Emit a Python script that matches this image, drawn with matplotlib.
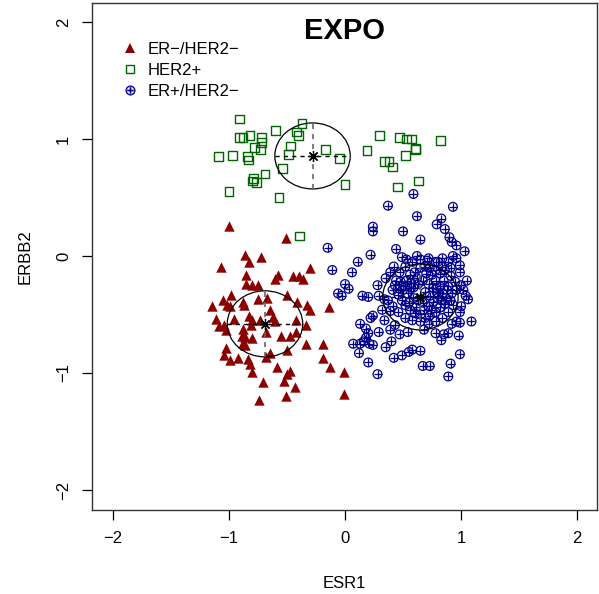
import numpy as np
import matplotlib
matplotlib.use("Agg")
import matplotlib.pyplot as plt
from matplotlib.patches import Ellipse
from matplotlib.lines import Line2D

plt.rcParams["font.family"] = ["Liberation Sans", "DejaVu Sans"]

# группы и подписи легенды
labels = ["ER\u2212/HER2\u2212", "HER2+", "ER+/HER2\u2212"]
colors = ["#8B0000", "#006400", "#00008B"]

# ER-/HER2- (ESR1, ERBB2)
er_neg = np.array([
    (-1.00, 0.26), (-0.51, 0.15), (-0.86, 0.01), (-0.83, -0.05), (-0.72, -0.01),
    (-1.07, -0.09), (-0.30, -0.10), (-0.85, -0.16), (-0.58, -0.16), (-0.60, -0.20),
    (-0.45, -0.17), (-0.40, -0.17), (-0.36, -0.20), (-0.85, -0.24), (-0.80, -0.25),
    (-0.75, -0.25), (-0.98, -0.33), (-1.05, -0.38), (-1.15, -0.43), (-1.02, -0.42),
    (-0.99, -0.43), (-0.88, -0.39), (-0.87, -0.42), (-0.75, -0.37), (-0.67, -0.36),
    (-0.50, -0.33), (-0.41, -0.39), (-0.33, -0.42), (-0.30, -0.46), (-0.14, -0.44),
    (-1.11, -0.54), (-1.09, -0.60), (-1.04, -0.59), (-1.03, -0.63), (-0.96, -0.54),
    (-0.83, -0.51), (-0.80, -0.55), (-0.81, -0.59), (-0.88, -0.62), (-0.89, -0.68),
    (-0.86, -0.69), (-0.80, -0.70), (-0.73, -0.55), (-0.65, -0.46), (-0.62, -0.52),
    (-0.60, -0.56), (-0.55, -0.68), (-0.68, -0.65), (-0.47, -0.68), (-0.42, -0.55),
    (-0.34, -0.59), (-0.42, -0.65), (-0.34, -0.75), (-0.19, -0.75), (-0.88, -0.74),
    (-0.86, -0.76), (-1.03, -0.79), (-1.04, -0.85), (-0.99, -0.89), (-0.92, -0.87),
    (-0.84, -0.88), (-0.82, -0.92), (-0.80, -0.99), (-0.68, -0.86), (-0.65, -0.83),
    (-0.50, -0.80), (-0.19, -0.87), (-0.13, -0.95), (-0.01, -0.99), (-0.59, -0.95),
    (-0.47, -0.98), (-0.50, -1.01), (-0.53, -1.07), (-0.71, -1.08), (-0.43, -1.12),
    (-0.51, -1.20), (-0.74, -1.23), (-0.01, -1.18),
])

# HER2+
her2 = np.array([
    (-0.91, 1.17), (-0.91, 1.01), (-0.88, 1.01), (-0.82, 1.03), (-0.72, 1.01),
    (-0.72, 0.97), (-0.78, 0.93), (-0.73, 0.91), (-0.60, 1.07), (-0.37, 1.13),
    (-0.42, 1.06), (-0.40, 1.03), (-0.47, 0.94), (-0.49, 0.87), (-0.17, 0.91),
    (-0.05, 0.83), (-1.09, 0.85), (-0.97, 0.86), (-0.84, 0.85), (-0.83, 0.82),
    (-0.54, 0.75), (-0.69, 0.70), (-0.79, 0.66), (-0.80, 0.64), (-0.76, 0.63),
    (-1.00, 0.55), (-0.57, 0.50), (0.00, 0.61), (-0.39, 0.17), (0.30, 1.03),
    (0.19, 0.90), (0.47, 1.01), (0.53, 1.00), (0.57, 1.00), (0.82, 0.99),
    (0.61, 0.92), (0.61, 0.91), (0.52, 0.86), (0.34, 0.81), (0.38, 0.81),
    (0.41, 0.76), (0.63, 0.64), (0.45, 0.59),
])

# ER+/HER2-
er_pos = np.array([
    (0.59, 0.53), (0.37, 0.43), (0.93, 0.42), (0.62, 0.34), (0.83, 0.32),
    (0.79, 0.27), (0.24, 0.25), (0.24, 0.21), (0.86, 0.23), (0.50, 0.21),
    (0.90, 0.16), (0.92, 0.12), (0.96, 0.09), (0.65, 0.14), (-0.15, 0.07),
    (0.44, 0.06), (1.03, 0.04), (0.22, 0.01), (0.11, -0.05), (0.49, -0.01),
    (0.53, -0.03), (0.62, 0.00), (0.71, -0.04), (0.80, -0.05), (0.84, -0.02),
    (0.93, 0.00), (0.96, -0.02), (-0.11, -0.12), (0.06, -0.14), (0.42, -0.09),
    (0.39, -0.14), (0.99, -0.08), (0.99, -0.14), (1.05, -0.21), (0.00, -0.24),
    (0.03, -0.28), (-0.06, -0.32), (-0.03, -0.34), (0.15, -0.34), (0.20, -0.35),
    (0.28, -0.25), (0.29, -0.34), (0.34, -0.37), (0.35, -0.19), (0.53, -0.21),
    (0.47, -0.28), (0.52, -0.26), (0.57, -0.27), (0.79, -0.28), (1.00, -0.25),
    (1.02, -0.29), (1.04, -0.34), (1.06, -0.37), (1.00, -0.43), (0.99, -0.48),
    (1.09, -0.56), (0.32, -0.46), (0.39, -0.47), (0.22, -0.53), (0.24, -0.51),
    (0.13, -0.58), (0.18, -0.62), (0.20, -0.66), (0.18, -0.70), (0.16, -0.73),
    (0.21, -0.75), (0.24, -0.76), (0.07, -0.75), (0.13, -0.75), (0.29, -0.65),
    (0.39, -0.63), (0.47, -0.67), (0.54, -0.65), (0.68, -0.63), (0.78, -0.66),
    (0.83, -0.72), (0.89, -0.66), (0.98, -0.68), (0.92, -0.58), (0.99, -0.57),
    (0.40, -0.73), (0.35, -0.78), (0.12, -0.83), (0.20, -0.91), (0.28, -1.01),
    (0.42, -0.87), (0.49, -0.85), (0.55, -0.82), (0.58, -0.80), (0.65, -0.81),
    (0.67, -0.94), (0.73, -0.94), (0.91, -0.92), (0.99, -0.84), (0.89, -1.03),
    (0.34, -0.55), (0.43, -0.59), (0.85, -0.67), (0.96, -0.56),
    (0.43, -0.25), (0.46, -0.33), (0.49, -0.38), (0.52, -0.42), (0.56, -0.46),
    (0.60, -0.49), (0.65, -0.50), (0.69, -0.53), (0.73, -0.51), (0.78, -0.48),
    (0.82, -0.44), (0.86, -0.41), (0.91, -0.38), (0.92, -0.32), (0.89, -0.26),
    (0.85, -0.21), (0.82, -0.15), (0.78, -0.12), (0.73, -0.10), (0.69, -0.09),
    (0.65, -0.10), (0.60, -0.14), (0.56, -0.16), (0.53, -0.21), (0.50, -0.29),
    (0.54, -0.32), (0.59, -0.36), (0.63, -0.38), (0.67, -0.40), (0.72, -0.43),
    (0.76, -0.39), (0.80, -0.36), (0.84, -0.32), (0.88, -0.29), (0.76, -0.27),
    (0.72, -0.24), (0.67, -0.21), (0.63, -0.24), (0.59, -0.27), (0.69, -0.31),
    (0.73, -0.34), (0.78, -0.21), (0.82, -0.26), (0.86, -0.12), (0.91, -0.17),
    (0.95, -0.22), (0.96, -0.29), (0.93, -0.42), (0.89, -0.48), (0.84, -0.53),
    (0.78, -0.56), (0.72, -0.58), (0.65, -0.56), (0.58, -0.55), (0.52, -0.53),
    (0.46, -0.48), (0.41, -0.43), (0.37, -0.38), (0.41, -0.29), (0.44, -0.21),
    (0.47, -0.14), (0.52, -0.09), (0.58, -0.05), (0.65, -0.03), (0.72, -0.02),
    (0.78, -0.05), (0.84, -0.09), (0.89, -0.05), (0.75, -0.16), (0.70, -0.15),
    (0.62, -0.19), (0.57, -0.23), (0.79, -0.31), (0.83, -0.38), (0.74, -0.46),
    (0.68, -0.46), (0.61, -0.44), (0.55, -0.40), (0.48, -0.22), (0.87, -0.36),
    (0.91, -0.10),
])

# центры групп и полуоси эллипсов
centers = [(-0.69, -0.58), (-0.28, 0.855), (0.65, -0.35)]
semi_x = 0.325
semi_y = 0.282

fig = plt.figure(figsize=(5.99, 5.94), dpi=100)
ax = fig.add_axes([92 / 599, 1 - 510 / 594, 505 / 599, 507 / 594])

ax.scatter(er_neg[:, 0], er_neg[:, 1], marker="^", s=56, color=colors[0],
           linewidths=0, zorder=2)
ax.scatter(her2[:, 0], her2[:, 1], marker="s", s=40, facecolors="none",
           edgecolors=colors[1], linewidths=1.0, zorder=2)
ax.scatter(er_pos[:, 0], er_pos[:, 1], marker="o", s=40, facecolors="none",
           edgecolors=colors[2], linewidths=0.9, zorder=2)
ax.scatter(er_pos[:, 0], er_pos[:, 1], marker="+", s=40, color=colors[2],
           linewidths=0.9, zorder=2)

# эллипсы с крестами
for cx, cy in centers:
    ax.add_patch(Ellipse((cx, cy), 2 * semi_x, 2 * semi_y, fill=False,
                         edgecolor="black", linewidth=0.9, zorder=3))
    ax.plot([cx - semi_x, cx + semi_x], [cy, cy], color="black", linestyle=(0, (3, 3)),
            linewidth=1.0, zorder=3)
    ax.plot([cx, cx], [cy - semi_y, cy + semi_y], color="#666666", linestyle=(0, (3, 3)),
            linewidth=1.2, zorder=3)
    ax.plot(cx, cy, marker=(8, 2, 0), markersize=8, color="black", markeredgewidth=0.9,
            zorder=4)

ax.set_xlim(-2.181, 2.172)
ax.set_ylim(-2.171, 2.162)
ax.set_xticks([-2, -1, 0, 1, 2])
ax.set_yticks([-2, -1, 0, 1, 2])
ax.tick_params(direction="out", length=7, width=0.9, labelsize=12, pad=8)
for lab in ax.get_yticklabels():
    lab.set_rotation(90)
    lab.set_va("center")
for sp in ax.spines.values():
    sp.set_linewidth(1.0)
    sp.set_color("#333333")

ax.set_xlabel("ESR1", fontsize=12, labelpad=22)
ax.set_ylabel("ERBB2", fontsize=12, labelpad=17)
ax.text(0.5, 0.945, "EXPO", transform=ax.transAxes, ha="center", va="center",
        fontsize=21, fontweight="bold")

# легенда
handles = [
    Line2D([], [], marker="^", linestyle="none", markersize=7, color=colors[0],
           markeredgewidth=0),
    Line2D([], [], marker="s", linestyle="none", markersize=6, markerfacecolor="none",
           markeredgecolor=colors[1], markeredgewidth=1.0),
    Line2D([], [], marker="$\\oplus$", linestyle="none", markersize=7, color=colors[2],
           markeredgewidth=0.2),
]
ax.legend(handles, labels, loc="upper left", bbox_to_anchor=(0.045, 0.937),
          frameon=False, fontsize=12, handlelength=1.0, handletextpad=0.55,
          labelspacing=0.36, borderaxespad=0)

fig.savefig("out.png", dpi=100)
